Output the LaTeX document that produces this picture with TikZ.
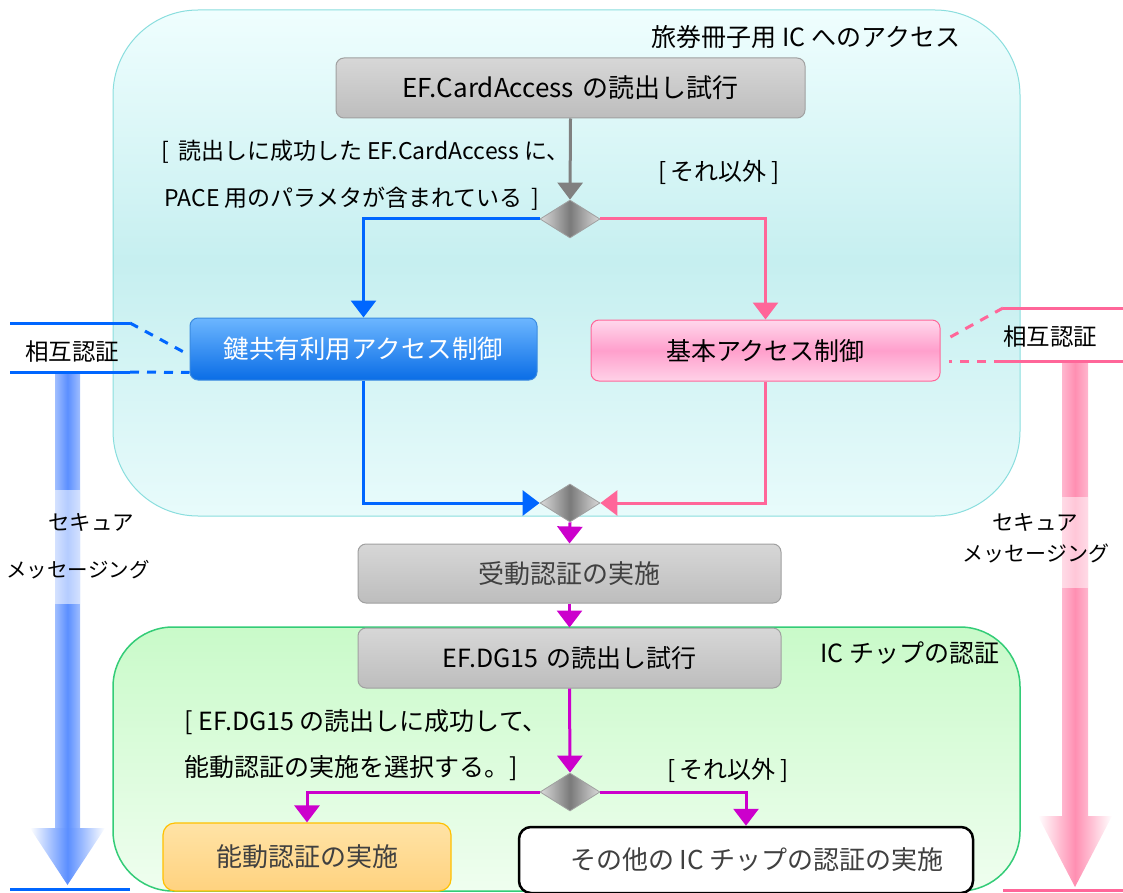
\documentclass[tikz,border=0pt]{standalone}
\usepackage{fontspec}
\setmainfont{Noto Sans CJK JP}
\usetikzlibrary{shapes.geometric,arrows.meta,calc}
\definecolor{cyantop}{HTML}{EFFEFE}
\definecolor{cyanmid}{HTML}{C6EFF0}
\definecolor{cyanbot}{HTML}{E8FBFB}
\definecolor{cyanborder}{HTML}{8ADEDE}
\definecolor{greentop}{HTML}{C9FAC9}
\definecolor{greenbot}{HTML}{EFFEEF}
\definecolor{greenborder}{HTML}{33CC77}
\definecolor{graytop}{HTML}{D7D7D7}
\definecolor{graybot}{HTML}{BDBDBD}
\definecolor{grayborder}{HTML}{A0A0A0}
\definecolor{dialight}{HTML}{DADADA}
\definecolor{diadark}{HTML}{7A7A7A}
\definecolor{arrgray}{HTML}{808080}
\definecolor{lineblue}{HTML}{0066FF}
\definecolor{linepink}{HTML}{FF6699}
\definecolor{magenta2}{HTML}{CC00CC}
\definecolor{bluetop}{HTML}{6CB6FF}
\definecolor{bluebot}{HTML}{0A6DE6}
\definecolor{blueborder}{HTML}{3B8BE0}
\definecolor{pinktop}{HTML}{FFD8EC}
\definecolor{pinkmid}{HTML}{FF9FCC}
\definecolor{pinkbot}{HTML}{FFD2E8}
\definecolor{orangetop}{HTML}{FFE3A6}
\definecolor{orangebot}{HTML}{FFD27F}
\definecolor{orangeborder}{HTML}{FFC000}
\definecolor{shaftblue}{HTML}{5B8FFF}
\definecolor{shaftblueedge}{HTML}{A0BEFF}
\definecolor{shaftpink}{HTML}{FF8FB2}
\definecolor{shaftpinkedge}{HTML}{FFB6CE}
\begin{document}
\begin{tikzpicture}[x=1pt,y=-1pt,
  fsz/.style={font=\fontsize{#1pt}{#1pt}\selectfont},
  graybox/.style={draw=grayborder, line width=1pt, rounded corners=8pt,
    top color=graytop, bottom color=graybot, inner sep=0pt},
  dia/.style={diamond, draw=grayborder, line width=0.8pt,
    left color=dialight, right color=dialight, middle color=diadark,
    minimum width=60pt, minimum height=38pt, inner sep=0pt},
  arr/.style={line width=3pt, -{Triangle[length=17pt,width=25pt]}},
  sidedash/.style={line width=3pt, dash pattern=on 9pt off 8pt},
  sideline/.style={line width=3pt}
]
\useasboundingbox (0,0) rectangle (1123,893);

% containers
\draw[cyanborder, line width=1pt, rounded corners=85pt,
  top color=cyantop, bottom color=cyanbot, middle color=cyanmid]
  (113,10) rectangle (1020,516);
\draw[greenborder, line width=1.5pt, rounded corners=60pt,
  top color=greentop, bottom color=greenbot]
  (113,627) rectangle (1020,891);

\node[fsz=25] (t1) at (806,37) {旅券冊子用 IC へのアクセス};
\node[fsz=25] (t2) at (910,653) {IC チップの認証};

% left side arrow
\shade[left color=shaftblueedge, right color=shaftblueedge, middle color=shaftblue]
  (55,373) rectangle (80,829);
\fill[white, opacity=0.55] (55,490) rectangle (80,604);
\shade[left color=white, right color=white, middle color=shaftblue]
  (30,828) -- (105,828) -- (67.5,885) -- cycle;
\coordinate (lb1) at (10,889);
\coordinate (lb2) at (130,889);
\draw[lineblue, sideline] (lb1) -- (lb2);

% right side arrow
\shade[left color=shaftpinkedge, right color=shaftpinkedge, middle color=shaftpink]
  (1062,363) rectangle (1088,817);
\fill[white, opacity=0.5] (1062,497) rectangle (1088,588);
\shade[left color=white, right color=white, middle color=shaftpink]
  (1038,816) -- (1112,816) -- (1075,887) -- cycle;
\coordinate (rb1) at (1003,890);
\coordinate (rb2) at (1123,890);
\draw[linepink, sideline] (rb1) -- (rb2);

% side texts
\node[fsz=21.5] (ls1) at (91,522) {セキュア};
\node[fsz=20.5] (ls2) at (78,570) {メッセージング};
\node[fsz=21.5] (rs1) at (1035,522) {セキュア};
\node[fsz=21] (rs2) at (1036,553) {メッセージング};

% boxes
\node[graybox, minimum width=469pt, minimum height=60pt, fsz=26] (ca) at (570.5,88) {EF.CardAccess\hspace{0.35em}の読出し試行};
\node[dia] (d1) at (570,219) {};
\node[draw=blueborder, line width=1pt, rounded corners=8pt, top color=bluetop, bottom color=bluebot,
  minimum width=347pt, minimum height=62pt, inner sep=0pt, text=white, fsz=25.5] (ka) at (363.5,349) {鍵共有利用アクセス制御};
\node[draw=linepink, line width=1pt, rounded corners=8pt, top color=pinktop, bottom color=pinkbot, middle color=pinkmid,
  minimum width=349pt, minimum height=61pt, inner sep=0pt, fsz=25] (ba) at (765.5,350.5) {基本アクセス制御};
\node[dia] (d2) at (570,503) {};
\node[graybox, minimum width=423pt, minimum height=59pt, text=black!75, fsz=26] (pa) at (569.5,573.5) {受動認証の実施};
\node[graybox, minimum width=423pt, minimum height=60pt, fsz=25] (dg) at (569.5,658) {EF.DG15\hspace{0.3em}の読出し試行};
\node[dia] (d3) at (570,792) {};
\node[draw=orangeborder, line width=1.2pt, rounded corners=12pt, top color=orangetop, bottom color=orangebot,
  minimum width=288pt, minimum height=68pt, inner sep=0pt, text=black!75, fsz=26] (aa) at (307,857) {能動認証の実施};
\node[draw=black, line width=2.5pt, rounded corners=12pt, fill=white,
  minimum width=454pt, minimum height=66pt, inner sep=0pt, text=black!75, fsz=26] (oa) at (746,860) {\hspace{22pt}その他の IC チップの認証の実施};

% guard texts
\node[fsz=23, anchor=west] (g1) at (158,152) {[\, 読出しに成功した EF.CardAccess に、};
\node[fsz=23, anchor=west] (g2) at (161,199) {PACE 用のパラメタが含まれている \,]};
\node[fsz=24] (g3) at (719,172) {[\,それ以外\,]};
\node[fsz=25, anchor=west] (g4) at (181,722) {[ EF.DG15 の読出しに成功して、};
\node[fsz=25, anchor=west] (g5) at (181,768) {能動認証の実施を選択する。]};
\node[fsz=24] (g6) at (728,770) {[\,それ以外\,]};

% connectors
\draw[arr, arrgray] (ca.south) -- (d1.north);
\draw[arr, lineblue] (d1.west) -| (ka.north);
\draw[arr, linepink] (d1.east) -| (ba.north);
\draw[arr, lineblue] (ka.south) |- (d2.west);
\draw[arr, linepink] (ba.south) |- (d2.east);
\draw[arr, magenta2] (d2.south) -- (pa.north);
\draw[arr, magenta2] (pa.south) -- (dg.north);
\draw[arr, magenta2] (dg.south) -- (d3.north);
\draw[arr, magenta2] (d3.west) -| (aa.north);
\draw[arr, magenta2] (d3.east) -| (oa.north);

% mutual authentication markers
\coordinate (lt0) at (10,323);
\coordinate (lt1) at (130,323);
\coordinate (lu0) at (10,372);
\coordinate (lu1) at (130,372);
\draw[lineblue, sideline] (lt0) -- (lt1);
\draw[lineblue, sideline] (lu0) -- (lu1);
\draw[lineblue, sidedash] (lt1) -- ([xshift=-4pt,yshift=-4pt]ka.west);
\draw[lineblue, sidedash] (lu1) -- ([yshift=8pt]ka.south west);
\node[fsz=23.5] (lm) at (72,352) {相互認証};

\coordinate (rt0) at (1123,308);
\coordinate (rt1) at (1003,308);
\coordinate (ru0) at (1123,361);
\coordinate (ru1) at (1003,361);
\draw[linepink, sideline] (rt0) -- (rt1);
\draw[linepink, sideline] (ru0) -- (ru1);
\draw[linepink, sidedash] (rt1) -- ([xshift=9pt,yshift=13pt]ba.east);
\draw[linepink, sidedash] (ru1) -- ([xshift=8pt,yshift=-10.5pt]ba.east);
\node[fsz=23.5] (rm) at (1050,337) {相互認証};
\end{tikzpicture}
\end{document}
